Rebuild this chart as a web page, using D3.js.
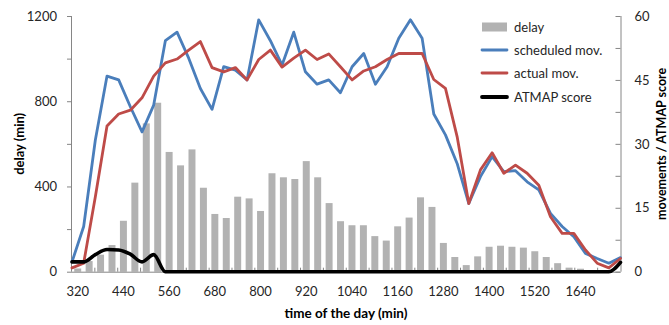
<!DOCTYPE html>
<html><head><meta charset="utf-8">
<script src="https://cdn.jsdelivr.net/npm/d3@7"></script>
<style>
html,body{margin:0;padding:0;background:#fff;}
svg{display:block;font-family:Lato,"Open Sans",sans-serif;}
</style></head>
<body><svg id="c" width="669" height="325"></svg>
<script>
const categories = [320,350,380,410,440,470,500,530,560,590,620,650,680,710,740,770,800,830,860,890,920,950,980,1010,1040,1070,1100,1130,1160,1190,1220,1250,1280,1310,1340,1370,1400,1430,1460,1490,1520,1550,1580,1610,1640,1670,1700,1730];
const delay = [15,50,80,125,239,418,696,793,562,499,574,394,271,252,352,344,285,462,443,435,519,443,322,237,218,218,167,146,213,254,349,304,135,69,31,72,117,122,117,113,96,69,40,19,14,4,2,0];
const scheduled = [2.3,10.6,30.9,45.9,45.0,38.7,32.8,39.1,54.2,56.2,50.1,43.0,38.1,48.1,47.3,45.0,59.1,54.2,48.5,56.2,46.9,44.0,45.0,42.0,48.1,51.2,44.0,48.1,54.8,59.1,54.8,37.0,32.1,25.4,16.0,22.3,27.0,23.5,23.7,21.1,19.2,13.7,10.6,8.2,4.3,3.1,2.0,3.3];
const actual = [0.9,2.0,17.6,34.2,37.0,37.9,40.8,45.9,49.0,49.9,52.0,54.0,47.9,46.9,47.9,45.0,49.8,52.0,48.0,50.1,52.0,49.8,51.1,48.1,45.0,47.1,48.1,49.8,51.2,51.2,51.2,45.1,43.0,31.7,16.0,23.9,27.9,23.1,25.0,23.1,20.3,12.9,9.0,9.0,5.1,2.0,0.9,3.1];
const atmap = [2.3,2.3,4.0,5.2,5.1,4.1,2.3,4.0,0,0,0,0,0,0,0,0,0,0,0,0,0,0,0,0,0,0,0,0,0,0,0,0,0,0,0,0,0,0,0,0,0,0,0,0,0,0,0,2.2];
const xLabels = [320,440,560,680,800,920,1040,1160,1280,1400,1520,1640];
const leftTicks = [0,200,400,600,800,1000,1200];
const rightTicks = [0,7.5,15,22.5,30,37.5,45,52.5,60];
const legendItems = [
  {name:"delay", type:"bar", color:"#b2b2b2"},
  {name:"scheduled mov.", type:"line", color:"#4a7ebb", w:2.8},
  {name:"actual mov.", type:"line", color:"#be4b48", w:2.8},
  {name:"ATMAP score", type:"line", color:"#000000", w:3.8}
];

const L = 72, R = 620.5, T = 16, B = 271.7;
const axisColor = "#868686", textColor = "#262626";
const svg = d3.select("#c");

const xBand = d3.scaleBand().domain(categories).range([L, R]).paddingInner(0.39).paddingOuter(0.195);
const xPt = d3.scalePoint().domain(categories).range([L, R]).padding(0);
const yL = d3.scaleLinear().domain([0,1200]).range([B, T]);
const yR = d3.scaleLinear().domain([0,60]).range([B, T]);

// bars
svg.append("g").selectAll("rect").data(categories).join("rect")
  .attr("x", (c) => xBand(c))
  .attr("width", xBand.bandwidth())
  .attr("y", (c,i) => yL(delay[i]))
  .attr("height", (c,i) => B - yL(delay[i]))
  .attr("fill", "#b2b2b2");

// x axis ticks (inward, every other band boundary)
const gap = (xBand.step() - xBand.bandwidth())/2;
const tickCats = categories.filter((c,i) => i % 2 === 0 && i > 0);
svg.append("g").selectAll("line").data(tickCats).join("line")
  .attr("x1", c => xBand(c) - gap).attr("x2", c => xBand(c) - gap)
  .attr("y1", B).attr("y2", B - 4)
  .attr("stroke", axisColor).attr("stroke-width", 1);

// x axis
const xAxis = svg.append("g").attr("transform", `translate(0,${B})`)
  .call(d3.axisBottom(xBand).tickValues(xLabels).tickSize(0).tickPadding(15));
xAxis.select(".domain").attr("stroke", axisColor).attr("d", `M${L},0.5H${R}`);
xAxis.selectAll("text").attr("font-size", 13).attr("fill", textColor).attr("font-family", "Lato, sans-serif");

// left axis
const lAxis = svg.append("g").attr("transform", `translate(${L},0)`)
  .call(d3.axisLeft(yL).tickValues(leftTicks).tickSize(5).tickPadding(10)
    .tickFormat(d => d % 400 === 0 ? d : ""));
lAxis.select(".domain").attr("stroke", axisColor).attr("d", `M-0.5,${B}V${T}`);
lAxis.selectAll(".tick line").attr("stroke", axisColor);
lAxis.selectAll("text").attr("font-size", 13).attr("fill", textColor).attr("font-family", "Lato, sans-serif");

// right axis
const rAxis = svg.append("g").attr("transform", `translate(${R},0)`)
  .call(d3.axisRight(yR).tickValues(rightTicks).tickSize(-5).tickPadding(14)
    .tickFormat(d => d % 15 === 0 ? d : ""));
rAxis.select(".domain").attr("stroke", axisColor).attr("d", `M0.5,${B}V${T}`);
rAxis.selectAll(".tick line").attr("stroke", axisColor);
rAxis.selectAll("text").attr("font-size", 13).attr("fill", textColor).attr("font-family", "Lato, sans-serif");

// lines
function drawLine(vals, color, w, curve) {
  const line = d3.line().x((d,i) => xPt(categories[i])).y(d => yR(d)).curve(curve || d3.curveLinear);
  svg.append("path").datum(vals).attr("d", line)
    .attr("fill", "none").attr("stroke", color).attr("stroke-width", w)
    .attr("stroke-linejoin", "round").attr("stroke-linecap", "round");
}
drawLine(scheduled, "#4a7ebb", 2.8);
drawLine(actual, "#be4b48", 2.8);
drawLine(atmap, "#000000", 3.6, d3.curveMonotoneX);

// axis titles
svg.append("text").attr("transform", `translate(24,${(T+B)/2}) rotate(-90)`)
  .attr("text-anchor", "middle").attr("font-size", 13).attr("font-weight", "bold")
  .attr("fill", "#000").text("delay (min)");
svg.append("text").attr("transform", `translate(666,${(T+B)/2}) rotate(-90)`)
  .attr("text-anchor", "middle").attr("font-size", 12.5).attr("font-weight", "bold")
  .attr("fill", "#000").text("movements / ATMAP score");
svg.append("text").attr("x", 346).attr("y", 318)
  .attr("text-anchor", "middle").attr("font-size", 13.5).attr("font-weight", "bold")
  .attr("fill", "#000").text("time of the day (min)");

// legend
const lg = svg.append("g").attr("transform", "translate(482,0)");
const rowY = [27, 50, 73, 97];
legendItems.forEach((it, i) => {
  const g = lg.append("g").attr("transform", `translate(0,${rowY[i]})`);
  if (it.type === "bar") {
    g.append("rect").attr("x", 0).attr("y", -4.5).attr("width", 25).attr("height", 9).attr("fill", it.color);
  } else {
    g.append("line").attr("x1", 0).attr("x2", 25).attr("y1", 0).attr("y2", 0)
      .attr("stroke", it.color).attr("stroke-width", it.w).attr("stroke-linecap", "round");
  }
  g.append("text").attr("x", 32).attr("y", 0).attr("dy", "0.35em")
    .attr("font-size", 13).attr("fill", textColor).text(it.name);
});
</script>
</body></html>
